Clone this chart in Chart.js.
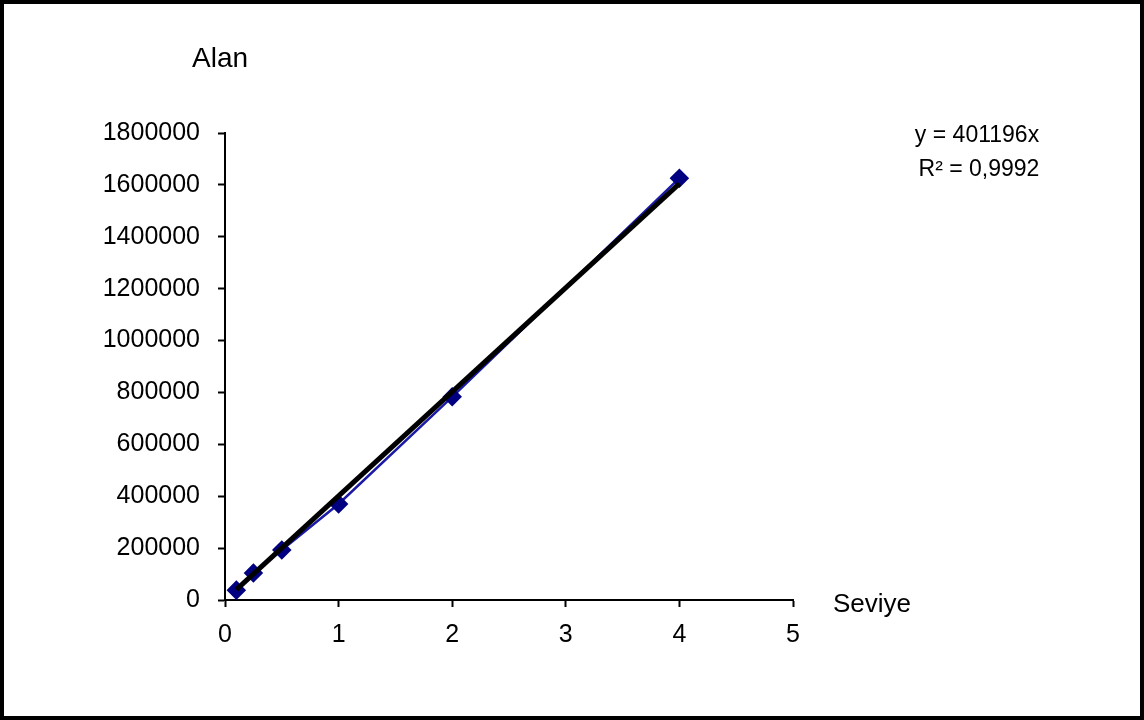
<!DOCTYPE html>
<html>
<head>
<meta charset="utf-8">
<script src="https://cdn.jsdelivr.net/npm/chart.js@4/dist/chart.umd.min.js"></script>
<style>
    body { margin: 0; background: #fff; }
    canvas { display: block; }
</style>
</head>
<body>
<canvas id="calChart" width="1144" height="720"></canvas>
<script>
// Data
const seviye = [0.1, 0.25, 0.5, 1, 2, 4];
const alan = [38000, 104000, 193000, 370000, 783000, 1626000];

// Linear trendline y = 401196x, drawn between first and last level
const trendX = [0.1, 4];
const trendY = [40120, 1604784];

const xTicks = [0, 1, 2, 3, 4, 5];
const yTicks = [0, 200000, 400000, 600000, 800000, 1000000, 1200000, 1400000, 1600000, 1800000];

const FONT = '"Liberation Sans", Arial, sans-serif';

// Texts around the plot plus the outer frame
const extrasPlugin = {
    id: 'extras',
    afterDraw(chart) {
        const ctx = chart.ctx;
        ctx.save();
        ctx.fillStyle = '#000';
        ctx.textBaseline = 'alphabetic';

        ctx.font = '28px ' + FONT;
        ctx.textAlign = 'left';
        ctx.fillText('Alan', 192, 67);
        ctx.font = '26px ' + FONT;
        ctx.fillText('Seviye', 833, 612);

        ctx.font = '23px ' + FONT;
        ctx.textAlign = 'center';
        ctx.fillText('y = 401196x', 977, 142);
        ctx.fillText('R² = 0,9992', 979, 176);

        ctx.strokeStyle = '#000';
        ctx.lineWidth = 4;
        ctx.strokeRect(2, 2, 1140, 716);
        ctx.restore();
    }
};

const axisCommon = {
    grid: {
        display: true,
        drawOnChartArea: false,
        drawTicks: true,
        tickLength: 7,
        tickColor: '#000',
        tickWidth: 2
    },
    border: { display: true, color: '#000', width: 2 }
};

const ctx = document.getElementById('calChart').getContext('2d');
new Chart(ctx, {
    type: 'scatter',
    data: {
        datasets: [{
            label: 'Trend',
            data: trendX.map((x, i) => ({ x: x, y: trendY[i] })),
            showLine: true,
            borderColor: '#000',
            borderWidth: 5,
            pointRadius: 0,
            order: 0
        }, {
            label: 'Alan',
            data: seviye.map((x, i) => ({ x: x, y: alan[i] })),
            showLine: true,
            borderColor: '#1a1aa6',
            borderWidth: 2.5,
            pointStyle: 'rectRot',
            pointRadius: 8,
            pointBackgroundColor: '#000080',
            pointBorderColor: '#000080',
            order: 1
        }]
    },
    options: {
        responsive: false,
        animation: false,
        layout: { padding: { top: 133, right: 351, left: 0, bottom: 0 } },
        plugins: {
            legend: { display: false },
            tooltip: { enabled: false }
        },
        scales: {
            x: {
                ...axisCommon,
                type: 'linear',
                min: 0,
                max: 5,
                afterFit: s => { s.height = 120; },
                afterBuildTicks: s => { s.ticks = xTicks.map(v => ({ value: v })); },
                ticks: {
                    color: '#000',
                    padding: 13,
                    font: { family: FONT, size: 25 },
                    callback: v => String(v)
                }
            },
            y: {
                ...axisCommon,
                min: 0,
                max: 1800000,
                afterFit: s => { s.width = 225; },
                afterBuildTicks: s => { s.ticks = yTicks.map(v => ({ value: v })); },
                ticks: {
                    color: '#000',
                    padding: 18,
                    font: { family: FONT, size: 25 },
                    callback: v => String(v)
                }
            }
        }
    },
    plugins: [extrasPlugin]
});
</script>
</body>
</html>
